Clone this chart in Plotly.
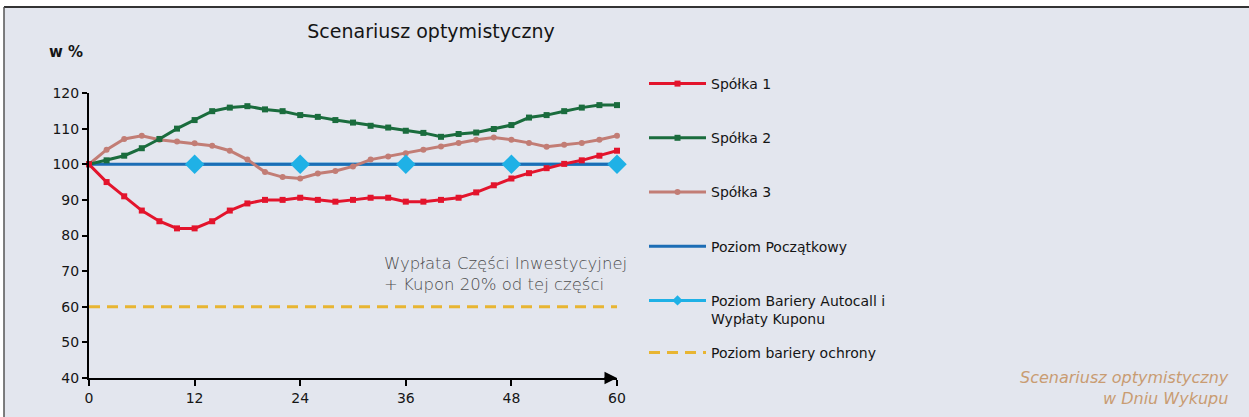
import plotly.graph_objects as go

months = list(range(0, 61, 2))
spolka1 = [100, 95, 91, 87, 84, 82, 82, 84, 87, 89, 90, 90, 90.6, 90, 89.5, 90,
           90.6, 90.6, 89.5, 89.5, 90, 90.6, 92.1, 94.1, 96, 97.5, 98.9, 100.1,
           101.1, 102.4, 103.8]
spolka2 = [100, 101.1, 102.4, 104.5, 107.1, 110, 112.4, 114.9, 115.9, 116.3, 115.4,
           114.9, 113.8, 113.3, 112.4, 111.7, 110.8, 110.3, 109.4, 108.8, 107.7,
           108.5, 108.9, 109.9, 111, 113.1, 113.8, 114.9, 115.9, 116.6, 116.6]
spolka3 = [100, 104.1, 107.1, 108, 106.9, 106.4, 105.9, 105.2, 103.8, 101.3, 97.8,
           96.4, 96, 97.4, 98.1, 99.4, 101.3, 102.2, 103.1, 104.1, 105, 106, 106.9,
           107.5, 106.9, 106, 104.9, 105.5, 106, 106.9, 108]
level_x = [0, 60]
initial_level = [100, 100]
autocall_x = [12, 24, 36, 48, 60]
autocall_level = [100, 100, 100, 100, 100]
protection_level = [60, 60]
x_ticks = [0, 12, 24, 36, 48, 60]
y_ticks = [40, 50, 60, 70, 80, 90, 100, 110, 120]

BG = "#e3e6ee"
FONT = "DejaVu Sans"
TXT = "#151515"

fig = go.Figure()

fig.add_trace(go.Scatter(x=level_x, y=protection_level, mode="lines",
                         name="Poziom bariery ochrony", legend="legend2",
                         line=dict(color="#e8b532", width=3, dash="11px,7px"),
                         cliponaxis=False))
fig.add_trace(go.Scatter(x=autocall_x, y=autocall_level, mode="lines+markers",
                         name="Poziom Bariery Autocall i<br>Wypłaty Kuponu",
                         legendgroup="g5", legendrank=5,
                         line=dict(color="#1fb1e6", width=3),
                         marker=dict(symbol="diamond", size=8, color="#1fb1e6"),
                         cliponaxis=False))
fig.add_trace(go.Scatter(x=level_x, y=initial_level, mode="lines",
                         name="Poziom Początkowy", legendgroup="g4", legendrank=4,
                         line=dict(color="#1c6db5", width=3), cliponaxis=False))
fig.add_trace(go.Scatter(x=months, y=spolka3, mode="lines+markers", name="Spółka 3",
                         legendgroup="g3", legendrank=3,
                         line=dict(color="#c27d75", width=3),
                         marker=dict(symbol="circle", size=6, color="#c27d75"),
                         cliponaxis=False))
fig.add_trace(go.Scatter(x=months, y=spolka2, mode="lines+markers", name="Spółka 2",
                         legendgroup="g2", legendrank=2,
                         line=dict(color="#1a6c3d", width=3),
                         marker=dict(symbol="square", size=6, color="#1a6c3d"),
                         cliponaxis=False))
fig.add_trace(go.Scatter(x=months, y=spolka1, mode="lines+markers", name="Spółka 1",
                         legendgroup="g1", legendrank=1,
                         line=dict(color="#e3142c", width=3),
                         marker=dict(symbol="square", size=6, color="#e3142c"),
                         cliponaxis=False))
fig.add_trace(go.Scatter(x=autocall_x, y=autocall_level, mode="markers",
                         showlegend=False, hoverinfo="skip",
                         marker=dict(symbol="diamond", size=15, color="#1fb1e6"),
                         cliponaxis=False))

L, R, T, B = 89, 632, 93, 39
W, H = 1249, 417
pw = W - L - R
ph = H - T - B


def px(p):
    return (p - L) / pw


def py(p):
    return (H - B - p) / ph


legend_font = dict(size=14, family=FONT, color=TXT)

fig.update_layout(
    width=W, height=H,
    margin=dict(l=L, r=R, t=T, b=B, pad=0),
    paper_bgcolor="white",
    plot_bgcolor="rgba(0,0,0,0)",
    font=dict(family=FONT, color=TXT),
    title=dict(text="Scenariusz optymistyczny", x=431 / W, xanchor="center",
               xref="container", y=1 - 31 / H, yanchor="middle", yref="container",
               font=dict(size=19, color=TXT, family=FONT)),
    xaxis=dict(range=[0, 60], tickvals=x_ticks, ticks="outside", ticklen=6,
               tickwidth=2, tickcolor="black", showline=True, linecolor="black",
               linewidth=2, showgrid=False, zeroline=False,
               tickfont=dict(size=14, family=FONT, color=TXT)),
    yaxis=dict(range=[40, 120], tickvals=y_ticks, ticks="outside", ticklen=5,
               tickwidth=2, tickcolor="black", showline=True, linecolor="black",
               linewidth=2, showgrid=False, zeroline=False,
               tickfont=dict(size=14, family=FONT, color=TXT)),
    legend=dict(x=px(644), y=py(68), xanchor="left", yanchor="top",
                bgcolor="rgba(0,0,0,0)", tracegroupgap=33, itemwidth=57,
                maxheight=400, font=legend_font, valign="top"),
    legend2=dict(x=px(644), y=py(337), xanchor="left", yanchor="top",
                 bgcolor="rgba(0,0,0,0)", itemwidth=57, font=legend_font),
    showlegend=True,
)

fig.add_shape(type="rect", xref="paper", yref="paper",
              x0=px(4), x1=px(W + 10), y0=py(H + 10), y1=py(7),
              fillcolor=BG, line=dict(width=0), layer="below")
fig.add_shape(type="line", xref="paper", yref="paper",
              x0=px(4), x1=px(W + 10), y0=py(7), y1=py(7),
              line=dict(color="#333333", width=2), layer="below")
fig.add_shape(type="line", xref="paper", yref="paper",
              x0=px(4), x1=px(4), y0=py(7), y1=py(H + 10),
              line=dict(color="#555555", width=1.5), layer="below")

fig.add_annotation(x=60, y=40, ax=-14, ay=0, text="", showarrow=True,
                   arrowhead=2, arrowsize=1.25, arrowwidth=2, arrowcolor="black")
fig.add_annotation(text="w %", xref="paper", yref="paper", x=px(47), y=py(52),
                   xanchor="left", yanchor="middle", showarrow=False,
                   font=dict(size=15, family=FONT, color=TXT, weight="bold"))
fig.add_annotation(text="Wypłata Części Inwestycyjnej<br>+ Kupon 20% od tej części",
                   x=33.3, y=69.2, xanchor="left", yanchor="middle", align="left",
                   showarrow=False,
                   font=dict(size=16.5, family=FONT, color="#4d4d4d", weight=200))
fig.add_annotation(text="<i>Scenariusz optymistyczny<br>w Dniu Wykupu</i>",
                   xref="paper", yref="paper", x=px(1231), y=py(388),
                   xanchor="right", yanchor="middle", align="right", showarrow=False,
                   font=dict(size=16, family=FONT, color="#c99c72", weight=200))

fig.write_html("out.html", config={"displayModeBar": False},
               post_script="document.body.style.margin='0';")
